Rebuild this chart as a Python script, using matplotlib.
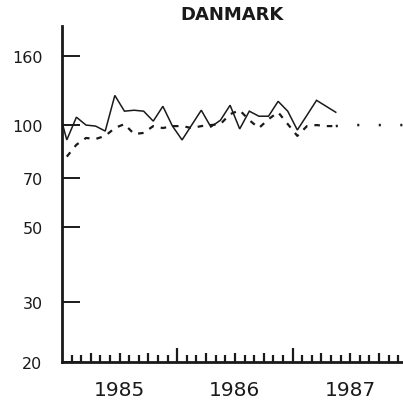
import numpy as np
import matplotlib
matplotlib.use("Agg")
import matplotlib.pyplot as plt

plt.rcParams['lines.scale_dashes'] = False

# --- data (monthly index, 0 = Jan 1985) ---
actual_months = list(range(-1, 29))
actual_values = [115, 90.4, 105.5, 100, 99.3, 96.0, 122.3, 109.9, 110.6, 109.9,
                 102.7, 113.6, 99.3, 90.4, 100, 110.6, 98.7, 103.4, 114.4, 97.4,
                 109.9, 106.2, 106.2, 117.5, 109.9, 96.7, 106.9, 118.3, 113.6, 109.1]
trend_months = list(range(0, 29))
trend_values = [80.7, 87.5, 91.6, 91.0, 92.9, 98.0, 100.7, 94.1, 94.8, 99.3,
                98.0, 99.3, 99.3, 98.0, 99.3, 100, 100.7, 107.7, 110.6, 103.4,
                98.0, 104.1, 109.1, 100.7, 92.9, 99.3, 100, 99.3, 99.3]
forecast_months = list(range(28, 36))
forecast_values = [99.3, 100, 100, 100, 100, 100, 100, 100]

y_ticks = [20, 30, 50, 70, 100, 160]
year_labels = ["1985", "1986", "1987"]
title = "DANMARK"

fig = plt.figure(figsize=(4.03, 4.10), dpi=100)
ax = fig.add_axes([62/403, 47/410, 1 - 62/403, 336/410])

col = "#1a1a1a"
ax.plot(np.array(actual_months) + 0.5, actual_values, color=col, lw=1.1,
        solid_joinstyle='miter')
ax.plot(np.array(trend_months) + 0.5, trend_values, color=col, lw=1.6,
        dashes=(4, 5))
ax.plot(np.array(forecast_months) + 0.5, forecast_values, color=col, lw=1.8,
        dashes=(1.5, 14), dash_capstyle='butt')

ax.set_yscale('log')
ax.set_ylim(20, 196)
ax.set_xlim(0, 35.5)

for s in ['top', 'right']:
    ax.spines[s].set_visible(False)
ax.spines['left'].set_linewidth(2)
ax.spines['bottom'].set_linewidth(2)
ax.spines['left'].set_color(col)
ax.spines['bottom'].set_color(col)

# y ticks
ax.yaxis.set_minor_locator(matplotlib.ticker.NullLocator())
ax.set_yticks(y_ticks)
ax.set_yticklabels([str(v) for v in y_ticks])
ax.tick_params(axis='y', direction='in', length=13, width=1.4, pad=14,
               labelsize=11.5, colors=col)

# x ticks: monthly, quarterly and yearly
months = np.arange(1, 36)
ax.set_xticks(months)
labels = []
for m in months:
    if m % 12 == 6:
        labels.append(year_labels[m // 12])
    else:
        labels.append("")
ax.set_xticklabels(labels)
ax.tick_params(axis='x', direction='in', width=1.6, pad=13, labelsize=14.5,
               colors=col)
for m, t in zip(months, ax.xaxis.get_major_ticks()):
    if m % 12 == 0:
        L = 10
    elif m % 3 == 0:
        L = 6.5
    else:
        L = 5
    t.tick1line.set_markersize(L)

ax.set_title(title, fontsize=13, fontweight='bold', pad=5, color=col)

fig.savefig("out.png", dpi=100)
